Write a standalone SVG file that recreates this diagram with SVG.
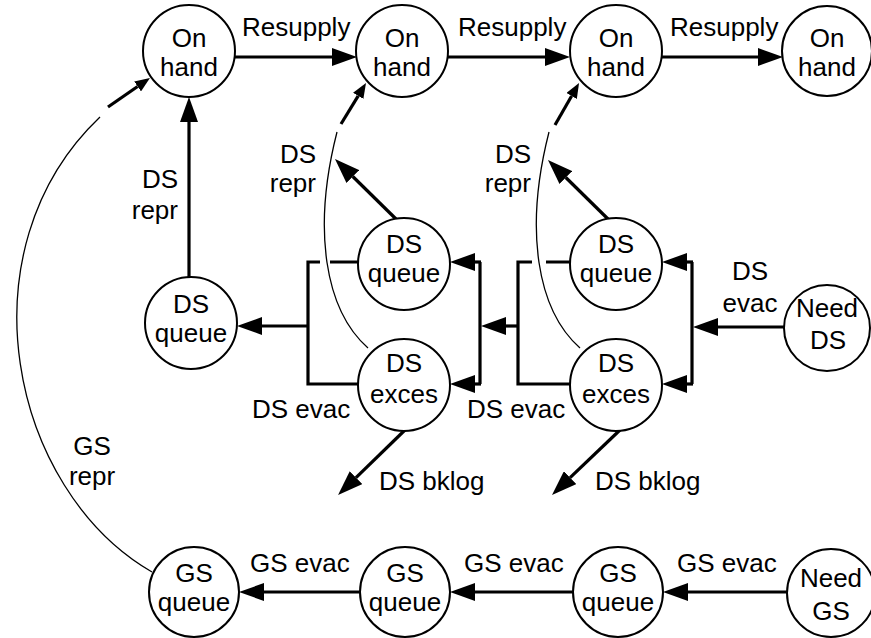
<svg xmlns="http://www.w3.org/2000/svg" width="871" height="638" viewBox="0 0 871 638">
<style>
text{font-family:"Liberation Sans",Arial,sans-serif;font-size:26px;fill:#000}
.n circle{fill:#fff;stroke:#000;stroke-width:2}
.n text{text-anchor:middle}
.c{fill:none;stroke:#000;stroke-width:3.2}
.t{fill:none;stroke:#000;stroke-width:1.3}
.a{marker-end:url(#ah)}
.s{marker-end:url(#sh)}
.m{text-anchor:middle}
.e{text-anchor:end}
</style>
<defs>
<marker id="ah" markerUnits="userSpaceOnUse" markerWidth="26" markerHeight="18" refX="0" refY="9" orient="auto"><path d="M0,0 L25,9 L0,18 z" fill="#000"/></marker>
<marker id="sh" markerUnits="userSpaceOnUse" markerWidth="16" markerHeight="12" refX="0" refY="6" orient="auto"><path d="M0,0 L15,6 L0,12 z" fill="#000"/></marker>
</defs>
<g id="connectors">
<path class="c a" d="M235,57 H332"/>
<path class="c a" d="M448,57 H545"/>
<path class="c a" d="M662,57 H758"/>
<path class="c a" d="M189,277 V122"/>
<path class="t" d="M152,572 C10,490 -40,250 100,117"/>
<path class="c s" d="M108,107 L137.6,86.5"/>
<path class="t" d="M368,348 C325,310 312,230 337,132"/>
<path class="c s" d="M341,124 L358.2,95.8"/>
<path class="t" d="M580,348 C537,310 524,230 549,132"/>
<path class="c s" d="M555,125 L571.6,96"/>
<path class="c a" d="M396,219 L352.8,176.5"/>
<path class="c a" d="M608,219 L565.8,177.5"/>
<path class="c" d="M320,262 H308 V384 H359 M330,262 H359"/>
<path class="c a" d="M308,326 H262"/>
<path class="c" d="M480,262 V384"/>
<path class="c a" d="M481,262 H475"/>
<path class="c a" d="M481,384 H475"/>
<path class="c a" d="M518,326 H506"/>
<path class="c" d="M532,262 H518 V384 H571 M546,262 H571"/>
<path class="c" d="M692,262 V384"/>
<path class="c a" d="M693,262 H687"/>
<path class="c a" d="M693,384 H687"/>
<path class="c a" d="M784,327 H718"/>
<path class="c a" d="M405,430 L356,477.6"/>
<path class="c a" d="M620,430 L570.1,477.7"/>
<path class="c a" d="M360,592 H264"/>
<path class="c a" d="M573,592 H475"/>
<path class="c a" d="M787,592 H688"/>
</g>
<g id="labels">
<text x="242" y="36">Resupply</text>
<text x="458" y="36">Resupply</text>
<text x="670" y="36">Resupply</text>
<text class="e" x="178" y="188">DS</text>
<text class="e" x="178" y="219">repr</text>
<text class="e" x="316" y="163">DS</text>
<text class="e" x="316" y="192">repr</text>
<text class="e" x="531" y="163">DS</text>
<text class="e" x="531" y="192">repr</text>
<text class="m" x="750" y="280">DS</text>
<text class="m" x="750" y="312">evac</text>
<text x="252" y="418">DS evac</text>
<text x="467" y="418">DS evac</text>
<text x="379" y="490">DS bklog</text>
<text x="595" y="490">DS bklog</text>
<text class="m" x="92" y="455">GS</text>
<text class="m" x="92" y="485">repr</text>
<text x="250" y="572">GS evac</text>
<text x="464" y="572">GS evac</text>
<text x="677" y="572">GS evac</text>
</g>
<g id="onhand1" class="n"><circle cx="189" cy="51" r="46"/><text x="189" y="47">On</text><text x="189" y="76">hand</text></g>
<g id="onhand2" class="n"><circle cx="402" cy="51" r="46"/><text x="402" y="47">On</text><text x="402" y="76">hand</text></g>
<g id="onhand3" class="n"><circle cx="616" cy="51" r="46"/><text x="616" y="47">On</text><text x="616" y="76">hand</text></g>
<g id="onhand4" class="n"><circle cx="827" cy="51" r="45"/><text x="827" y="47">On</text><text x="827" y="76">hand</text></g>
<g id="dsqueue1" class="n"><circle cx="191" cy="323" r="46"/><text x="191" y="313">DS</text><text x="191" y="342">queue</text></g>
<g id="dsqueue2" class="n"><circle cx="404" cy="264" r="46"/><text x="404" y="253">DS</text><text x="404" y="282">queue</text></g>
<g id="dsexces2" class="n"><circle cx="404" cy="385" r="46"/><text x="404" y="372">DS</text><text x="404" y="403">exces</text></g>
<g id="dsqueue3" class="n"><circle cx="616" cy="264" r="46"/><text x="616" y="253">DS</text><text x="616" y="282">queue</text></g>
<g id="dsexces3" class="n"><circle cx="616" cy="385" r="46"/><text x="616" y="372">DS</text><text x="616" y="403">exces</text></g>
<g id="needds" class="n"><circle cx="827" cy="328" r="43"/><text x="827" y="317">Need</text><text x="828" y="349">DS</text></g>
<g id="gsqueue1" class="n"><circle cx="194" cy="592" r="45"/><text x="194" y="582">GS</text><text x="194" y="611">queue</text></g>
<g id="gsqueue2" class="n"><circle cx="405" cy="592" r="45"/><text x="405" y="582">GS</text><text x="405" y="611">queue</text></g>
<g id="gsqueue3" class="n"><circle cx="618" cy="592" r="45"/><text x="618" y="582">GS</text><text x="618" y="611">queue</text></g>
<g id="needgs" class="n"><circle cx="831" cy="593" r="44"/><text x="831" y="587">Need</text><text x="831" y="620">GS</text></g>
</svg>
